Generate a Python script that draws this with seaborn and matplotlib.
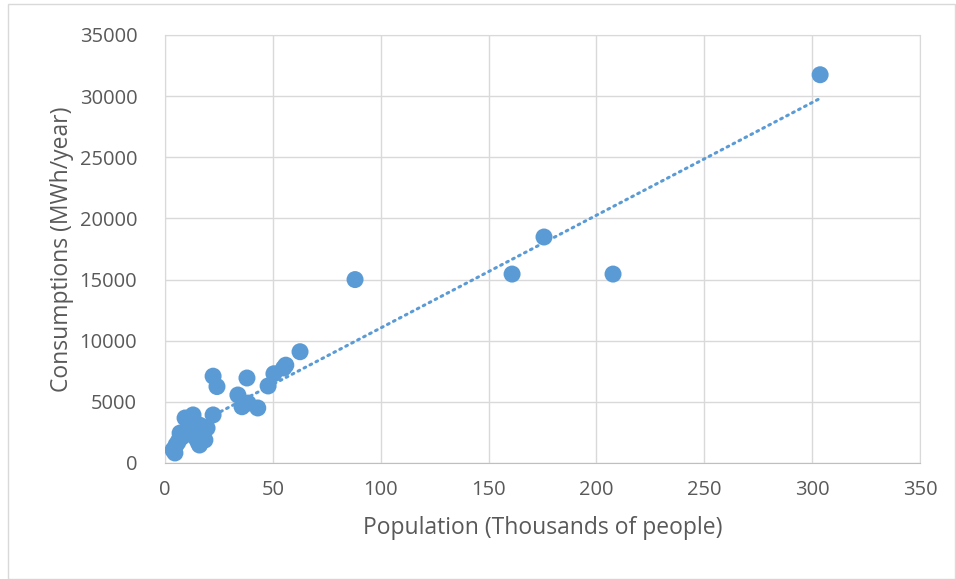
import numpy as np
import seaborn as sns
import matplotlib.pyplot as plt
from matplotlib.patches import Rectangle

population = [3.7, 4.6, 5.1, 6.0, 7.0, 7.9, 9.3, 10.7, 11.6, 13.0, 13.9, 15.3, 16.0,
              16.0, 17.6, 18.5, 19.5, 22.3, 22.3, 24.1, 33.8, 35.7, 38.0, 38.5,
              43.0, 47.8, 50.5, 55.0, 56.0, 62.6, 88.1, 160.9, 175.7, 207.7, 303.7]
consumption = [1060, 820, 1470, 1700, 2450, 2130, 3680, 2700, 3100, 3930, 2130, 1720, 1470,
               3100, 2450, 1880, 2860, 3930, 7100, 6250, 5560, 4600, 6950, 4900,
               4500, 6300, 7300, 7770, 8000, 9100, 15000, 15450, 18480, 15450, 31750]

blue = '#5B9BD5'
grey_text = '#595959'

fig = plt.figure(figsize=(9.56, 5.79), dpi=100)
ax = fig.add_axes([165 / 956, 1 - 463 / 579, (920 - 165) / 956, (463 - 35) / 579])

sns.regplot(x=population, y=consumption, ax=ax, scatter=False, ci=None,
            line_kws=dict(color=blue, lw=2.2, linestyle=(0, (0.6, 1.6)),
                          dash_capstyle='round'))
sns.scatterplot(x=population, y=consumption, ax=ax, color=blue, s=150,
                edgecolor='none', zorder=3)

ax.set_xlim(0, 350)
ax.set_ylim(0, 35000)
ax.set_xticks(np.arange(0, 351, 50))
ax.set_yticks(np.arange(0, 35001, 5000))
ax.grid(True, color='#d9d9d9', lw=1)
ax.set_axisbelow(True)
for sp in ax.spines.values():
    sp.set_color('#d9d9d9')
ax.spines['bottom'].set_color('#bfbfbf')
ax.tick_params(axis='y', length=0, labelsize=14.5, colors=grey_text, pad=20)
ax.tick_params(axis='x', length=0, labelsize=14.5, colors=grey_text, pad=12)
for lbl in ax.get_xticklabels() + ax.get_yticklabels():
    lbl.set_fontfamily('Open Sans')

ax.set_xlabel('Population (Thousands of people)', fontsize=16.5, color=grey_text,
              family='Open Sans', labelpad=12)
ax.set_ylabel('Consumptions (MWh/year)', fontsize=16.5, color=grey_text,
              family='Open Sans', labelpad=4)

fig.patches.append(Rectangle((8 / 956, 0), 1 - 9 / 956, 1 - 4 / 579,
                             transform=fig.transFigure, fill=False,
                             edgecolor='#d9d9d9', lw=1))

fig.savefig('out.png', dpi=100)
